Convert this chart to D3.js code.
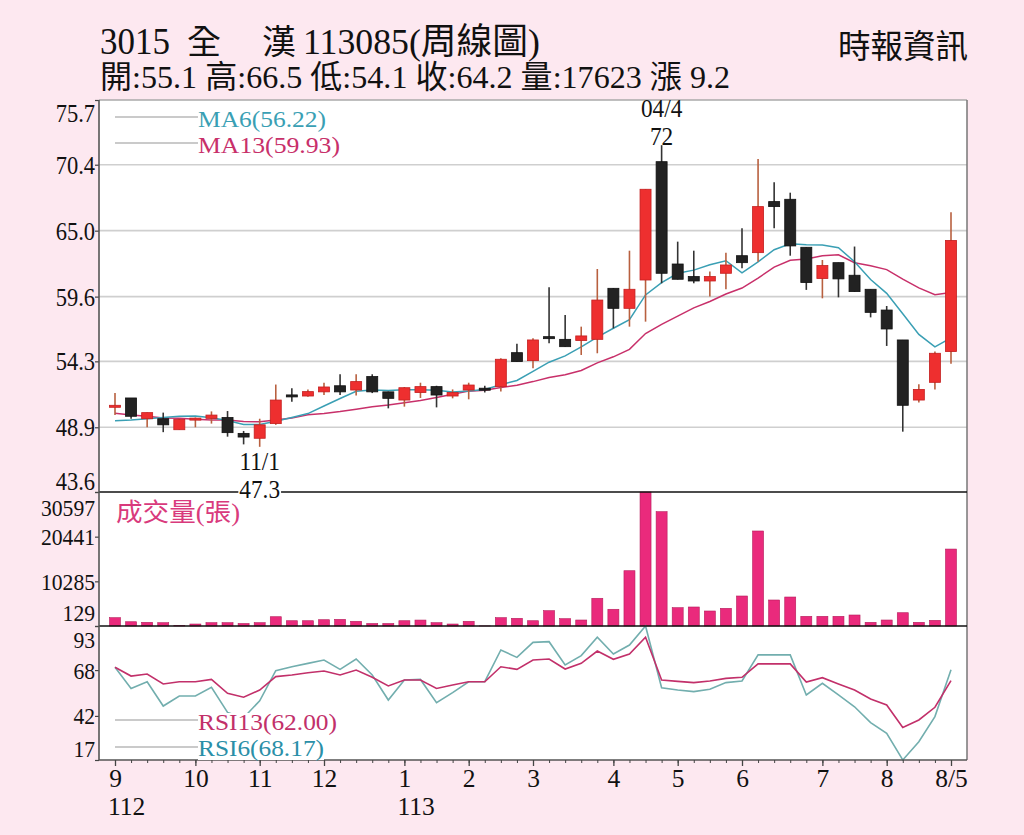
<!DOCTYPE html>
<html><head><meta charset="utf-8">
<script src="https://cdn.jsdelivr.net/npm/d3@7"></script>
<style>html,body{margin:0;padding:0;background:#fde8f0;}svg{display:block;}</style>
</head><body>
<svg id="c" width="1024" height="835"></svg>
<script>
// ---------- data (weekly candles) ----------
const openP  = [50.6,51.3,49.6,49.6,48.7,49.55,49.63,49.7,48.4,48.0,49.2,51.55,51.46,51.8,52.3,51.95,53.05,51.8,51.13,51.74,52.23,51.46,51.95,52.1,52.23,55.01,54.36,56.32,56.1,56.0,56.1,60.28,58.64,60.96,70.65,62.27,61.24,60.88,61.51,62.95,63.2,67.38,67.57,63.64,61.08,62.38,61.35,60.2,58.5,56.05,51.13,52.58,55.1];
const highP  = [51.7,51.3,50.1,50.1,49.6,49.7,50.2,50.23,48.6,49.6,52.4,52.1,52.0,52.55,53.24,53.24,53.24,51.82,52.2,52.55,52.3,52.0,52.55,52.3,54.55,55.73,56.19,60.36,58.1,57.14,61.86,60.3,63.36,68.4,72.0,64.1,63.36,61.65,63.2,65.2,70.87,68.96,68.11,63.64,62.6,62.38,63.7,60.2,58.83,56.05,52.42,55.1,66.5];
const lowP   = [49.9,49.6,48.9,48.5,48.7,48.9,49.2,48.13,47.5,47.3,49.1,51.0,51.4,51.54,51.54,51.5,51.7,50.45,50.59,51.3,50.53,51.27,51.19,51.75,51.82,54.28,53.73,55.78,55.5,54.82,54.96,57.0,57.14,57.55,60.69,61.0,60.69,59.6,60.2,61.92,62.46,65.2,62.95,60.15,59.46,59.54,60.0,57.9,55.56,48.54,50.92,52.0,54.1];
const closeP = [50.7,49.8,50.1,49.1,49.55,49.65,49.9,48.46,48.1,49.1,51.13,51.5,51.82,52.2,51.8,52.64,51.8,51.27,52.14,52.23,51.54,51.74,52.36,52.0,54.47,54.28,56.05,56.19,55.5,56.38,59.32,58.64,60.2,68.39,61.51,61.02,60.88,61.24,62.19,62.38,66.97,66.97,63.75,60.75,62.14,61.05,60.01,58.31,56.95,50.7,52.0,54.96,64.2];
const ma6  = [49.44,49.5,49.6,49.7,49.8,49.82,49.68,49.46,49.13,49.13,49.39,49.7,50.02,50.64,51.26,51.85,51.96,51.92,51.98,51.98,51.94,51.79,51.88,52.0,52.39,52.73,53.48,54.23,54.75,55.48,56.29,57.01,57.71,59.74,60.74,61.51,61.77,62.21,62.54,61.54,62.45,63.44,63.92,63.84,63.83,63.61,62.45,61.0,59.87,58.19,56.5,55.49,56.22];
const ma13 = [50.05,49.9,49.8,49.65,49.63,49.55,49.5,49.5,49.38,49.35,49.5,49.65,49.92,50.03,50.19,50.38,50.59,50.72,50.91,51.09,51.33,51.61,51.86,51.93,52.15,52.34,52.64,52.98,53.2,53.55,54.17,54.67,55.28,56.58,57.33,58.0,58.68,59.2,59.81,60.3,61.12,62.01,62.57,62.68,62.95,63.02,62.37,62.13,61.81,61.03,60.32,59.76,59.93];
const volume = [2020,1100,970,880,200,580,880,880,700,880,2240,1330,1330,1560,1640,1200,700,700,1330,1480,880,580,1200,150,2020,1880,1330,3610,1790,1490,6430,3930,12700,30597,26120,4290,4450,3540,4150,6950,21730,6040,6720,2330,2330,2330,2630,970,1490,3150,970,1420,17623];
const rsi13 = [69.6,64.6,65.8,60.1,61.4,61.4,62.7,54.8,52.6,56.7,64.3,65.2,66.5,67.5,65.2,68.0,63.9,59.0,62.4,62.4,57.6,59.5,61.4,61.4,69.9,68.4,73.7,74.3,68.6,71.8,78.8,74.1,77.1,86.6,62.4,61.6,60.9,61.8,63.3,63.9,71.5,71.5,71.5,61.2,63.7,60.1,56.7,51.6,48.2,35.5,39.7,46.9,62.0];
const rsi6  = [69.6,57.6,61.4,47.6,53.3,53.3,58.2,44,41,50.6,67.7,69.9,71.8,73.7,68.4,74.3,65.2,51.0,62.4,62.7,49.5,55.2,61.4,61.4,79.4,75.2,83.7,84.1,70.9,76.2,86.6,77.1,82.2,93,58.0,56.7,55.8,57.1,60.9,61.8,76.6,76.6,76.6,53.9,60.5,53.9,47.2,38.2,32.1,17,27.4,41.6,68.17];

const priceTicks = [43.6,48.9,54.3,59.6,65.0,70.4,75.7];
const volTicks   = [129,10285,20441,30597];
const rsiTicks   = [17,42,68,93];
const monthIdx    = [0,5,9,13,18,22,26,31,35,39,44,48,52];
const monthLabels = ["9","10","11","12","1","2","3","4","5","6","7","8","8/5"];
const yearIdx     = [0,18];
const yearLabels  = ["112","113"];
const hiWeek = "04/4", loWeek = "11/1";

const titleCode = "3015", titleName1 = "全", titleName2 = "漢", titleRest = "113085(周線圖)";
const infoLine = "開:55.1 高:66.5 低:54.1 收:64.2 量:17623 漲 9.2";
const sourceText = "時報資訊";
const ma6Label = "MA6(56.22)", ma13Label = "MA13(59.93)";
const volLabel = "成交量(張)";
const rsi13Label = "RSI13(62.00)", rsi6Label = "RSI6(68.17)";

// ---------- layout ----------
const L = 99, R = 967, pTop = 100, pBot = 492, vBot = 626, rBot = 760;
const serif = "'Liberation Serif','Times New Roman','Noto Sans CJK TC',serif";
const cjk = "'Liberation Serif','Noto Sans CJK TC',serif";
const C = {red:"#ee2f2f", redEdge:"#c41f1f", redWick:"#b8603f", black:"#222", blackWick:"#333",
           vol:"#ea2a7c", volEdge:"#b51d5b", ma6:"#3a9fb4", ma13:"#c8306a", rsi13:"#c2306a", rsi6:"#72aeae",
           grid:"#cfcfcf"};

const svg = d3.select("#c");
const idx = d3.range(openP.length);
const x  = d3.scaleLinear().domain([0, openP.length-1]).range([115, 951]);
const yP = d3.scaleLinear().domain([43.6, 75.7]).range([pBot, pTop]);
const yV = d3.scaleLinear().domain([129, 30597]).range([vBot, pBot]);
const yR = d3.scaleLinear().domain([17, 93]).range([rBot, vBot]);

// squeeze a text horizontally (condensed look of the reference face)
function squeeze(sel, k) {
  sel.each(function(){ const w = this.getComputedTextLength();
    d3.select(this).attr("textLength", w*k).attr("lengthAdjust","spacingAndGlyphs"); });
}

// white plot area
svg.append("rect").attr("x",L).attr("y",pTop).attr("width",R-L).attr("height",rBot-pTop).attr("fill","#fff");

// grid lines in price panel
svg.append("g").selectAll("line").data(priceTicks.slice(1,-1)).join("line")
  .attr("x1",L).attr("x2",R).attr("y1",d=>yP(d)).attr("y2",d=>yP(d))
  .attr("stroke",C.grid).attr("stroke-width",1.6);

// ---------- header ----------
svg.append("text").attr("x",100).attr("y",54).attr("font-family",serif).attr("font-size",37)
  .attr("textLength",70).attr("lengthAdjust","spacingAndGlyphs").attr("fill","#111").text(titleCode);
svg.append("text").attr("x",187).attr("y",54).attr("font-family",cjk).attr("font-size",34).attr("fill","#111").text(titleName1);
svg.append("text").attr("x",262).attr("y",54).attr("font-family",cjk).attr("font-size",34).attr("fill","#111").text(titleName2);
svg.append("text").attr("x",303).attr("y",54).attr("font-family",cjk).attr("font-size",36)
  .attr("textLength",237).attr("lengthAdjust","spacingAndGlyphs").attr("fill","#111").text(titleRest);
svg.append("text").attr("x",100).attr("y",88).attr("font-family",cjk).attr("font-size",32)
  .attr("textLength",630).attr("lengthAdjust","spacingAndGlyphs").attr("fill","#111").text(infoLine);
svg.append("text").attr("x",968).attr("y",58).attr("text-anchor","end").attr("font-family",cjk).attr("font-size",32.5).attr("fill","#111").text(sourceText);

// ---------- MA lines ----------
const maLine = arr => d3.line().x((d,i)=>x(i)).y(d=>yP(d))(arr);
svg.append("path").attr("d",maLine(ma13)).attr("fill","none").attr("stroke",C.ma13).attr("stroke-width",1.5);
svg.append("path").attr("d",maLine(ma6)).attr("fill","none").attr("stroke",C.ma6).attr("stroke-width",1.5);

// ---------- candles ----------
const bw = 11;
const cg = svg.append("g");
const isUp = i => closeP[i] >= openP[i];
cg.selectAll("line.wick").data(idx).join("line").attr("class","wick")
  .attr("x1",i=>x(i)).attr("x2",i=>x(i)).attr("y1",i=>yP(highP[i])).attr("y2",i=>yP(lowP[i]))
  .attr("stroke",i=>isUp(i)?C.redWick:C.blackWick).attr("stroke-width",1.6);
cg.selectAll("rect.body").data(idx).join("rect").attr("class","body")
  .attr("x",i=>x(i)-bw/2).attr("width",bw)
  .attr("y",i=>yP(Math.max(openP[i],closeP[i])))
  .attr("height",i=>Math.max(2, Math.abs(yP(openP[i])-yP(closeP[i]))))
  .attr("fill",i=>isUp(i)?C.red:C.black)
  .attr("stroke",i=>isUp(i)?C.redEdge:"#111").attr("stroke-width",0.8);

// high / low annotations
const hiI = d3.maxIndex(highP), loI = d3.minIndex(lowP);
const fmtV = d3.format("~g");
const annot = (xx, y, t, bg) => {
  const tx = svg.append("text").attr("x",xx).attr("y",y).attr("text-anchor","middle")
    .attr("font-family",serif).attr("font-size",24.5).attr("fill","#111").text(t);
  squeeze(tx, 0.95);
  if (bg) { const b = tx.node().getBBox();
    svg.insert("rect", () => tx.node()).attr("x",b.x-1).attr("y",b.y+4).attr("width",b.width+2).attr("height",b.height-6).attr("fill","#fff"); }
};

// ---------- volume ----------
svg.append("g").selectAll("rect").data(idx).join("rect")
  .attr("x",i=>x(i)-bw/2).attr("width",bw)
  .attr("y",i=>yV(volume[i])).attr("height",i=>Math.max(0,yV(129)-yV(volume[i])))
  .attr("fill",C.vol).attr("stroke",C.volEdge).attr("stroke-width",0.6);

// ---------- RSI ----------
const rLine = arr => d3.line().x((d,i)=>x(i)).y(d=>yR(d))(arr);
svg.append("path").attr("d",rLine(rsi6)).attr("fill","none").attr("stroke",C.rsi6).attr("stroke-width",1.6);
svg.append("path").attr("d",rLine(rsi13)).attr("fill","none").attr("stroke",C.rsi13).attr("stroke-width",1.6);

// ---------- borders ----------
svg.append("line").attr("x1",L).attr("x2",R).attr("y1",pTop).attr("y2",pTop).attr("stroke","#aaa").attr("stroke-width",1.5);
svg.append("line").attr("x1",R).attr("x2",R).attr("y1",pTop).attr("y2",rBot).attr("stroke","#777").attr("stroke-width",1.5);
[pBot, vBot].forEach(yy => svg.append("line").attr("x1",L).attr("x2",R).attr("y1",yy).attr("y2",yy).attr("stroke","#111").attr("stroke-width",1.6));
svg.append("line").attr("x1",L).attr("x2",R).attr("y1",rBot).attr("y2",rBot).attr("stroke","#555").attr("stroke-width",1.6);

annot(x(hiI), 117, hiWeek, false);
annot(x(hiI), 145, fmtV(highP[hiI]), false);
annot(x(loI), 470, loWeek, false);
annot(x(loI), 498, fmtV(lowP[loI]), true);

// ---------- legends ----------
function legend(y, label, color, lineY, width) {
  svg.append("line").attr("x1",115).attr("x2",198).attr("y1",lineY).attr("y2",lineY).attr("stroke","#b9b9b9").attr("stroke-width",1.4);
  const t = svg.append("text").attr("x",198).attr("y",y).attr("font-family",serif).attr("font-size",23).attr("fill",color)
    .attr("textLength",width).attr("lengthAdjust","spacingAndGlyphs").text(label);
  const b = t.node().getBBox();
  svg.insert("rect", () => t.node()).attr("x",b.x).attr("y",b.y+3).attr("width",b.width).attr("height",b.height-4).attr("fill","#fff");
}
legend(127, ma6Label, C.ma6, 117, 128);
legend(153, ma13Label, C.ma13, 143, 142);
legend(730, rsi13Label, C.rsi13, 720, 139);
legend(756, rsi6Label, "#2a8fa8", 747, 126);
svg.append("text").attr("x",116).attr("y",521).attr("font-family",cjk).attr("font-size",25.5)
  .attr("textLength",124).attr("lengthAdjust","spacingAndGlyphs").attr("fill","#d93a7c").text(volLabel);

// ---------- axes ----------
function styleAxis(g, shifts, fs) {
  g.select(".domain").remove();
  g.selectAll(".tick line").attr("stroke","#444").attr("stroke-width",1.2);
  const t = g.selectAll("text").attr("font-family",serif).attr("font-size",fs).attr("fill","#111")
    .attr("dy", (d)=> (shifts[d]!==undefined ? shifts[d] : 0) + "px").attr("dominant-baseline","central");
  squeeze(t, 0.9);
}
const gp = svg.append("g").attr("transform",`translate(${L},0)`)
  .call(d3.axisLeft(yP).tickValues(priceTicks).tickFormat(d3.format(".1f")).tickSize(4).tickPadding(0));
styleAxis(gp, {75.7:13, 43.6:-11}, 25);
const gv = svg.append("g").attr("transform",`translate(${L},0)`)
  .call(d3.axisLeft(yV).tickValues(volTicks).tickFormat(d3.format("d")).tickSize(4).tickPadding(0));
styleAxis(gv, {30597:15, 129:-14}, 24);
const gr = svg.append("g").attr("transform",`translate(${L},0)`)
  .call(d3.axisLeft(yR).tickValues(rsiTicks).tickFormat(d3.format("d")).tickSize(4).tickPadding(0));
styleAxis(gr, {93:13, 17:-12}, 24);
svg.append("line").attr("x1",L).attr("x2",L).attr("y1",pTop).attr("y2",rBot).attr("stroke","#555").attr("stroke-width",1.6);

// x axis: minor ticks every week, major ticks with month labels
const gxm = svg.append("g").attr("transform",`translate(0,${rBot})`)
  .call(d3.axisBottom(x).tickValues(idx).tickFormat("").tickSize(3));
gxm.select(".domain").remove();
gxm.selectAll(".tick line").attr("stroke","#444");
const gx = svg.append("g").attr("transform",`translate(0,${rBot})`)
  .call(d3.axisBottom(x).tickValues(monthIdx).tickFormat((d,i)=>monthLabels[i]).tickSize(6).tickPadding(4));
gx.select(".domain").remove();
gx.selectAll(".tick line").attr("stroke","#444").attr("stroke-width",1.3);
gx.selectAll("text").attr("font-family",serif).attr("font-size",25.5).attr("fill","#111").attr("dy",null).attr("y",27);
svg.append("g").selectAll("text").data(yearIdx).join("text")
  .attr("x",d=>x(d)-7).attr("y",815).attr("font-family",serif).attr("font-size",25.5).attr("fill","#111")
  .text((d,i)=>yearLabels[i]);
</script>
</body></html>
